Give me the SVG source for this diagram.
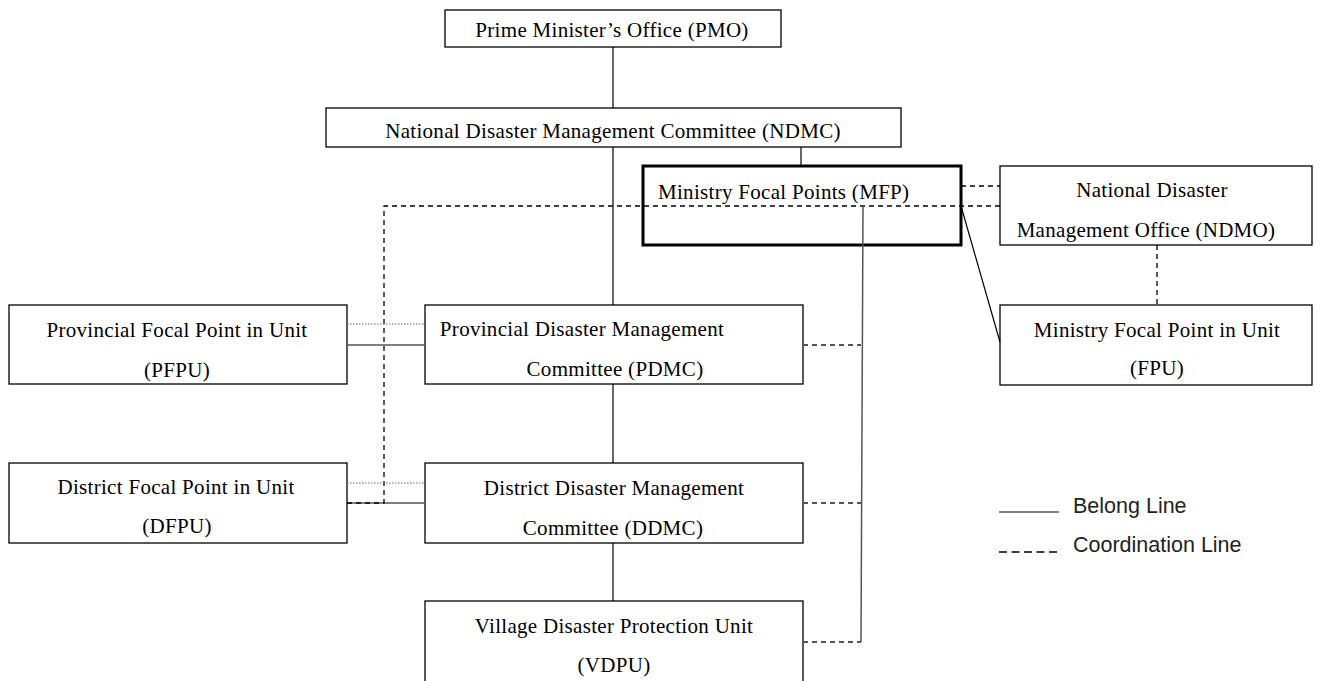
<svg xmlns="http://www.w3.org/2000/svg" width="1323" height="681" viewBox="0 0 1323 681">
<style>
.box{fill:#fff;stroke:#000;stroke-width:1.3}
.thick{fill:#fff;stroke:#000;stroke-width:3}
.t{font-family:"Liberation Serif",serif;font-size:21px;letter-spacing:0.3px;fill:#000;text-anchor:middle}
.solid{stroke:#000;stroke-width:1.2;fill:none}
.gray{stroke:#555;stroke-width:1.5;fill:none}
.dash{stroke:#000;stroke-width:1.3;stroke-dasharray:5,4;fill:none}
.gdash{stroke:#555;stroke-width:2;stroke-dasharray:5,4;fill:none}
.dot{stroke:#666;stroke-width:1;stroke-dasharray:1.5,1.5;fill:none}
.leg{font-family:"Liberation Sans",sans-serif;font-size:21.5px;fill:#222}
</style>
<rect width="1323" height="681" fill="#fff"/>
<g id="pmo"><rect class="box" x="445" y="10" width="336" height="37"/><text class="t" x="612" y="37">Prime Minister’s Office (PMO)</text></g>
<g id="ndmc"><rect class="box" x="326" y="108" width="575" height="39"/><text class="t" x="613" y="138">National Disaster Management Committee (NDMC)</text></g>
<g id="mfp"><rect class="thick" x="643" y="166" width="318" height="79"/><text class="t" x="658" y="199" style="text-anchor:start">Ministry Focal Points (MFP)</text></g>
<g id="ndmo"><rect class="box" x="1000" y="166" width="312" height="79"/><text class="t" x="1152" y="197">National Disaster</text><text class="t" x="1146" y="237">Management Office (NDMO)</text></g>
<g id="fpu"><rect class="box" x="1000" y="305" width="312" height="80"/><text class="t" x="1157" y="337">Ministry Focal Point in Unit</text><text class="t" x="1157" y="375">(FPU)</text></g>
<g id="pfpu"><rect class="box" x="9" y="305" width="338" height="79"/><text class="t" x="177" y="337">Provincial Focal Point in Unit</text><text class="t" x="177" y="377">(PFPU)</text></g>
<g id="pdmc"><rect class="box" x="425" y="305" width="378" height="79"/><text class="t" x="582" y="336">Provincial Disaster Management</text><text class="t" x="615" y="376">Committee (PDMC)</text></g>
<g id="dfpu"><rect class="box" x="9" y="463" width="338" height="80"/><text class="t" x="176" y="494">District Focal Point in Unit</text><text class="t" x="177" y="533">(DFPU)</text></g>
<g id="ddmc"><rect class="box" x="425" y="463" width="378" height="80"/><text class="t" x="614" y="495">District Disaster Management</text><text class="t" x="613" y="535">Committee (DDMC)</text></g>
<g id="vdpu"><rect class="box" x="425" y="601" width="378" height="90"/><text class="t" x="614" y="633">Village Disaster Protection Unit</text><text class="t" x="614" y="672">(VDPU)</text></g>
<g id="connectors">
<line class="solid" x1="613" y1="47" x2="613" y2="108"/>
<line class="solid" x1="613" y1="147" x2="613" y2="305"/>
<line class="solid" x1="801" y1="147" x2="801" y2="166"/>
<line class="solid" x1="613" y1="384" x2="613" y2="463"/>
<line class="solid" x1="613" y1="543" x2="613" y2="601"/>
<line class="gray" x1="347" y1="345" x2="425" y2="345"/>
<line class="gray" x1="347" y1="503" x2="425" y2="503"/>
<polyline class="dash" points="347,503 384,503 384,206 1000,206"/>
<line class="dash" x1="961" y1="186" x2="1000" y2="186"/>
<line class="dash" x1="1157" y1="245" x2="1157" y2="305"/>
<line class="solid" x1="961" y1="206" x2="1000" y2="342"/>
<line class="gray" x1="863" y1="206" x2="861" y2="642"/>
<line class="gdash" x1="803" y1="345" x2="861" y2="345"/>
<line class="gdash" x1="803" y1="503" x2="861" y2="503"/>
<line class="gdash" x1="803" y1="642" x2="861" y2="642"/>
<line class="dot" x1="347" y1="324" x2="425" y2="324"/>
<line class="dot" x1="347" y1="483" x2="425" y2="483"/>
</g>
<g id="legend">
<line class="solid" x1="999" y1="512" x2="1059" y2="512"/>
<text class="leg" x="1073" y="513">Belong Line</text>
<line class="dash" x1="999" y1="552" x2="1059" y2="552" style="stroke-dasharray:8,4.5"/>
<text class="leg" x="1073" y="552">Coordination Line</text>
</g>
</svg>
